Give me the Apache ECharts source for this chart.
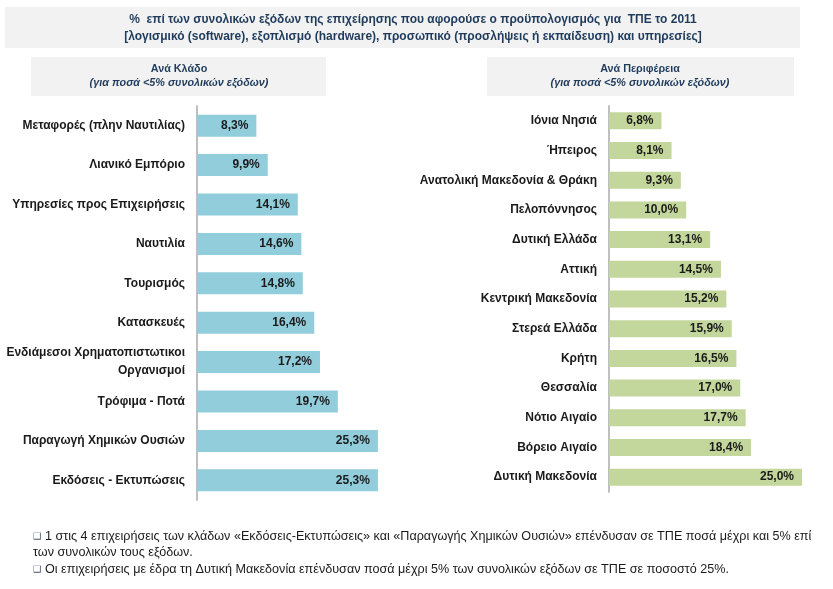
<!DOCTYPE html>
<html>
<head>
<meta charset="utf-8">
<script src="https://cdn.jsdelivr.net/npm/echarts@6/dist/echarts.min.js"></script>
<style>html,body{margin:0;padding:0;background:#fff}#c{width:833px;height:589px}</style>
</head>
<body>
<div id="c"></div>
<script>
const sectorCategories = ['Μεταφορές (πλην Ναυτιλίας)','Λιανικό Εμπόριο','Υπηρεσίες προς Επιχειρήσεις','Ναυτιλία','Τουρισμός','Κατασκευές','Ενδιάμεσοι Χρηματοπιστωτικοι\nΟργανισμοί','Τρόφιμα - Ποτά','Παραγωγή Χημικών Ουσιών','Εκδόσεις - Εκτυπώσεις'];
const sectorValues = [8.3, 9.9, 14.1, 14.6, 14.8, 16.4, 17.2, 19.7, 25.3, 25.3];
const regionCategories = ['Ιόνια Νησιά','Ήπειρος','Ανατολική Μακεδονία & Θράκη','Πελοπόννησος','Δυτική Ελλάδα','Αττική','Κεντρική Μακεδονία','Στερεά Ελλάδα','Κρήτη','Θεσσαλία','Νότιο Αιγαίο','Βόρειο Αιγαίο','Δυτική Μακεδονία'];
const regionValues = [6.8, 8.1, 9.3, 10.0, 13.1, 14.5, 15.2, 15.9, 16.5, 17.0, 17.7, 18.4, 25.0];
const titleLines = ['%  επί των συνολικών εξόδων της επιχείρησης που αφορούσε ο προϋπολογισμός για  ΤΠΕ το 2011','[λογισμικό (software), εξοπλισμό (hardware), προσωπικό (προσλήψεις ή εκπαίδευση) και υπηρεσίες]'];
const leftHeader = ['Ανά Κλάδο','(για ποσά <5% συνολικών εξόδων)'];
const rightHeader = ['Ανά Περιφέρεια','(για ποσά <5% συνολικών εξόδων)'];
const notes = ['1 στις 4 επιχειρήσεις των κλάδων «Εκδόσεις-Εκτυπώσεις» και «Παραγωγής Χημικών Ουσιών» επένδυσαν σε ΤΠΕ ποσά μέχρι και 5% επί','των συνολικών τους εξόδων.','Οι επιχειρήσεις με έδρα τη Δυτική Μακεδονία επένδυσαν ποσά μέχρι 5% των συνολικών εξόδων σε ΤΠΕ σε ποσοστό 25%.'];

const TITLE_C = '#1F3B5C';
const NARROW = '"Liberation Sans", sans-serif';
const LABF = '"Liberation Sans", sans-serif';
const fmt = v => v.toFixed(1).replace('.', ',') + '%';

const chart = echarts.init(document.getElementById('c'));

function txt(x, y, s, opts) {
  return { type: 'text', x: x, y: y, silent: true, style: Object.assign({ text: s, textAlign: 'center', textVerticalAlign: 'middle', fill: TITLE_C, fontFamily: NARROW, fontWeight: 'bold', fontSize: 12 }, opts || {}) };
}

const graphics = [
  { type: 'rect', shape: { x: 5, y: 7, width: 795, height: 41 }, style: { fill: '#F2F2F2' }, silent: true },
  { type: 'rect', shape: { x: 31, y: 57, width: 295, height: 39 }, style: { fill: '#F2F2F2' }, silent: true },
  { type: 'rect', shape: { x: 487, y: 57, width: 307, height: 39 }, style: { fill: '#F2F2F2' }, silent: true },
  txt(413, 20, titleLines[0]),
  txt(413, 37, titleLines[1]),
  txt(179, 69, leftHeader[0], { fontSize: 10.8 }),
  txt(179, 83, leftHeader[1], { fontStyle: 'italic', fontSize: 10.8 }),
  txt(640, 69, rightHeader[0], { fontSize: 10.8 }),
  txt(640, 83, rightHeader[1], { fontStyle: 'italic', fontSize: 10.8 }),
  txt(33, 537, '❑', { textAlign: 'left', fill: '#44546A', fontFamily: '"DejaVu Sans"', fontWeight: 'normal', fontSize: 9 }),
  txt(45, 537, notes[0], { textAlign: 'left', fill: '#1a1a1a', fontWeight: 'normal', fontSize: 12.6 }),
  txt(33, 553, notes[1], { textAlign: 'left', fill: '#1a1a1a', fontWeight: 'normal', fontSize: 12.6 }),
  txt(33, 570, '❑', { textAlign: 'left', fill: '#44546A', fontFamily: '"DejaVu Sans"', fontWeight: 'normal', fontSize: 9 }),
  txt(45, 570, notes[2], { textAlign: 'left', fill: '#1a1a1a', fontWeight: 'normal', fontSize: 12.6 })
];

const catAxis = (idx, data) => ({
  type: 'category', gridIndex: idx, data: data, inverse: true,
  axisLine: { show: true, lineStyle: { color: '#BFBFBF', width: 2 } },
  axisTick: { show: false },
  axisLabel: { margin: 12, color: '#1a1a1a', fontWeight: 'bold', fontSize: 12, fontFamily: LABF, lineHeight: 18, align: 'right' }
});
const valAxis = (idx, max) => ({
  type: 'value', gridIndex: idx, min: 0, max: max, show: false, splitLine: { show: false }
});
const barSeries = (idx, data, color, bw) => ({
  type: 'bar', xAxisIndex: idx, yAxisIndex: idx, data: data, barWidth: bw,
  itemStyle: { color: color },
  label: { show: true, position: 'insideRight', distance: 8, formatter: p => fmt(p.value), color: '#1a1a1a', fontWeight: 'bold', fontSize: 12, fontFamily: LABF },
  silent: true, animation: false
});

chart.setOption({
  animation: false,
  grid: [
    { left: 197, top: 106, width: 214.5, height: 394 },
    { left: 609, top: 106, width: 193, height: 386 }
  ],
  xAxis: [valAxis(0, 30), valAxis(1, 25)],
  yAxis: [catAxis(0, sectorCategories), catAxis(1, regionCategories)],
  series: [
    barSeries(0, sectorValues, '#92CDDC', 22),
    barSeries(1, regionValues, '#C3D69B', 17)
  ],
  graphic: graphics
});
</script>
</body>
</html>
